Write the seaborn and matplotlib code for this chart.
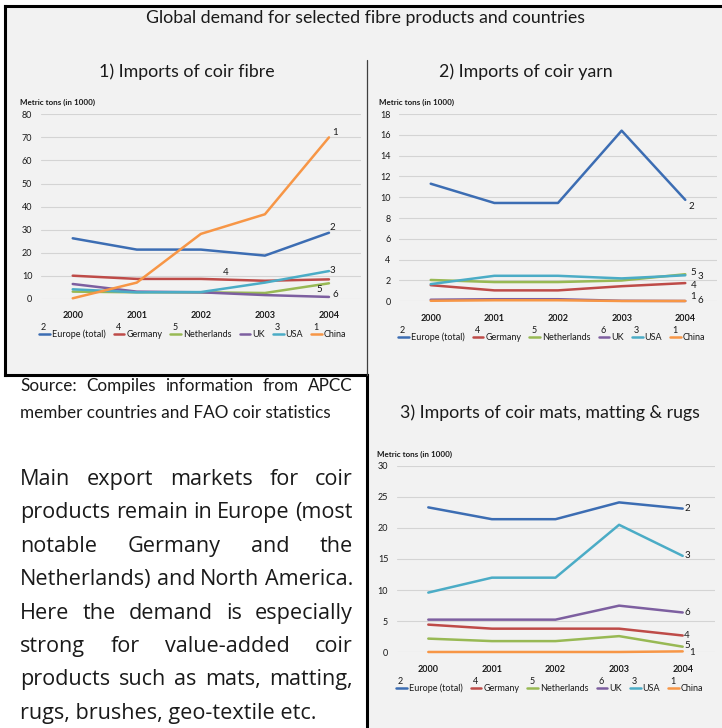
import numpy as np
import pandas as pd
import seaborn as sns
import matplotlib.pyplot as plt
from matplotlib.transforms import Affine2D, IdentityTransform
from matplotlib.patches import Polygon
from matplotlib.lines import Line2D

# Data (metric tons in 1000)
years = [2000, 2001, 2002, 2003, 2004]
countries = ["Europe (total)", "Germany", "Netherlands", "UK", "USA", "China"]
series_ids = ["2", "4", "5", "6", "3", "1"]
colors = ["#3c6db3", "#be4b48", "#98b954", "#7d5fa0", "#4bacc6", "#f79646"]

# 1) coir fibre
fibre_europe = [26.3, 21.4, 21.4, 18.8, 28.7]
fibre_germany = [10.1, 8.7, 8.7, 7.9, 8.5]
fibre_netherlands = [3.2, 2.9, 2.9, 2.6, 6.8]
fibre_uk = [6.5, 3.2, 2.9, 1.7, 0.9]
fibre_usa = [4.2, 2.9, 3.0, 7.1, 12.1]
fibre_china = [0.3, 7.1, 28.2, 36.7, 70.0]

# 2) coir yarn
yarn_europe = [11.3, 9.45, 9.45, 16.4, 9.75]
yarn_germany = [1.55, 1.05, 1.05, 1.45, 1.75]
yarn_netherlands = [2.05, 1.85, 1.85, 2.0, 2.6]
yarn_uk = [0.15, 0.2, 0.2, 0.05, 0.03]
yarn_usa = [1.65, 2.45, 2.45, 2.2, 2.5]
yarn_china = [0.05, 0.1, 0.1, 0.03, 0.03]

# 3) coir mats, matting & rugs
mats_europe = [23.3, 21.4, 21.4, 24.1, 23.1]
mats_germany = [4.45, 3.8, 3.8, 3.8, 2.7]
mats_netherlands = [2.2, 1.8, 1.8, 2.6, 0.9]
mats_uk = [5.25, 5.25, 5.25, 7.5, 6.4]
mats_usa = [9.6, 12.0, 12.0, 20.5, 15.5]
mats_china = [0.05, 0.05, 0.05, 0.05, 0.15]

body_lines = [
    "Main export markets for coir",
    "products remain in Europe (most",
    "notable Germany and the",
    "Netherlands) and North America.",
    "Here the demand is especially",
    "strong for value-added coir",
    "products such as mats, matting,",
    "rugs, brushes, geo-textile etc.",
]
source_lines = [
    "Source: Compiles information from APCC",
    "member countries and FAO coir statistics",
]

W, H = 722, 728
sns.set_theme(style="white")
plt.rcParams['font.family'] = ['Lato', 'DejaVu Sans']

fig = plt.figure(figsize=(W / 100, H / 100), dpi=100)
fig.patch.set_facecolor('white')
# pixel coordinates, origin top-left
pix = Affine2D().scale(1 / W, -1 / H).translate(0, 1) + fig.transFigure

# background panels and borders
fig.add_artist(Polygon([(5, 6), (722, 6), (722, 728), (367, 728), (367, 375), (5, 375)],
                       closed=True, transform=pix, facecolor='#f2f2f2', edgecolor='none', zorder=0))
for xs, ys in [([5, 722], [6, 6]), ([5, 5], [6, 375]), ([5, 367], [375, 375]), ([367, 367], [375, 728])]:
    fig.add_artist(Line2D(xs, ys, transform=pix, color='black', lw=2.2, solid_capstyle='projecting'))
fig.add_artist(Line2D([367, 367], [60, 375], transform=pix, color='#404040', lw=0.9))


def make_axes(l, t, r, b):
    return fig.add_axes([l / W, 1 - b / H, (r - l) / W, (b - t) / H])


def draw_chart(ax, values, ymax, ystep, legend_xy, labels):
    df = pd.DataFrame({
        'year': years * len(countries),
        'country': np.repeat(countries, len(years)),
        'value': np.concatenate(values),
    })
    sns.lineplot(data=df, x='year', y='value', hue='country', hue_order=countries,
                 palette=colors, linewidth=1.8, legend=False, ax=ax)
    for line in ax.lines:
        line.set_clip_on(False)
    ax.set_xlim(1999.5, 2004.5)
    ax.set_ylim(0, ymax)
    ax.set_xticks(years)
    ax.set_xticks(np.arange(1999.5, 2005, 1), minor=True)
    ax.set_yticks(np.arange(0, ymax + 0.1, ystep))
    ax.set_xlabel('')
    ax.set_ylabel('')
    ax.set_facecolor('none')
    for s in ax.spines.values():
        s.set_visible(False)
    ax.grid(axis='y', color='#d4d4d4', lw=0.8)
    ax.set_axisbelow(True)
    ax.tick_params(axis='x', which='major', length=0, pad=9, labelsize=6.5, labelcolor='#1a1a1a')
    ax.tick_params(axis='x', which='minor', length=3, color='#bfbfbf', width=0.8)
    ax.tick_params(axis='y', length=0, pad=6, labelsize=6.5, labelcolor='#1a1a1a')
    for lab in ax.get_xticklabels():
        lab.set_fontweight('bold')

    # numbers at the line ends
    for idx, xi, dx, dy in labels:
        ax.annotate(series_ids[idx], xy=(years[xi], values[idx][xi]), xytext=(dx * 0.72, -dy * 0.72),
                    textcoords='offset points', ha='left', va='center', fontsize=7, color='#1a1a1a')

    handles = [Line2D([], [], color=c, lw=1.8) for c in colors]
    leg = ax.legend(handles, countries, loc='center left', bbox_to_anchor=legend_xy, bbox_transform=pix,
                    ncol=6, frameon=False, fontsize=6.5, handlelength=1.2, handletextpad=0.2,
                    columnspacing=0.9, borderpad=0, borderaxespad=0)
    for t in leg.get_texts():
        t.set_color('#1a1a1a')
    return leg


ax1 = make_axes(40.7, 114.3, 361, 299)
leg1 = draw_chart(ax1, [fibre_europe, fibre_germany, fibre_netherlands, fibre_uk, fibre_usa, fibre_china],
                  80, 10, (39, 334),
                  [(5, 4, 3.5, -4.7), (0, 4, 0.5, -5.7), (4, 4, 0.5, -1), (1, 2, 22, -6),
                   (2, 4, -12.5, 5.7), (3, 4, 3.5, -2)])

ax2 = make_axes(398.9, 114, 717.1, 301.3)
leg2 = draw_chart(ax2, [yarn_europe, yarn_germany, yarn_netherlands, yarn_uk, yarn_usa, yarn_china],
                  18, 2, (398, 337),
                  [(0, 4, 3, 7), (2, 4, 5, -1.6), (4, 4, 12, 1), (1, 4, 6, 2),
                   (5, 4, 5, -4), (3, 4, 12, 0)])

ax3 = make_axes(396.5, 465.7, 714.5, 652.3)
leg3 = draw_chart(ax3, [mats_europe, mats_germany, mats_netherlands, mats_uk, mats_usa, mats_china],
                  30, 5, (396, 688),
                  [(0, 4, 1.5, 0), (4, 4, 1.5, 0), (3, 4, 2, 0), (1, 4, 1.5, 0),
                   (2, 4, 1.5, -1), (5, 4, 6, 1)])

# titles
title_size = 12.8
fig.text(366, 18, "Global demand for selected fibre products and countries", transform=pix,
         ha='center', va='center', fontsize=title_size, color='#1a1a1a')
fig.text(187, 72, "1) Imports of coir fibre", transform=pix, ha='center', va='center',
         fontsize=title_size, color='#1a1a1a')
fig.text(526, 72, "2) Imports of coir yarn", transform=pix, ha='center', va='center',
         fontsize=title_size, color='#1a1a1a')
fig.text(550, 413, "3) Imports of coir mats, matting & rugs", transform=pix, ha='center', va='center',
         fontsize=title_size, color='#1a1a1a')
for x, y in [(20, 102), (379, 102), (377, 454)]:
    fig.text(x, y, "Metric tons (in 1000)", transform=pix, ha='left', va='center', fontsize=5.8,
             fontweight='bold', color='#1a1a1a')

fig.canvas.draw()
renderer = fig.canvas.get_renderer()


def justify(lines, x0, x1, y0, dy, size, family):
    for i, line in enumerate(lines):
        y = y0 + i * dy
        if i == len(lines) - 1:
            fig.text(x0, y, line, transform=pix, fontsize=size, family=family, va='baseline', color='#1a1a1a')
            continue
        words = line.split()
        texts = [fig.text(0, y, w, transform=pix, fontsize=size, family=family, va='baseline',
                          color='#1a1a1a') for w in words]
        widths = [t.get_window_extent(renderer).width for t in texts]
        gap = (x1 - x0 - sum(widths)) / (len(words) - 1)
        x = x0
        for t, w in zip(texts, widths):
            t.set_position((x, y))
            x += w + gap


justify(source_lines, 20, 353, 391, 27, 12.3, ['Lato', 'DejaVu Sans'])
justify(body_lines, 20, 353, 485, 33.4, 15.6, ['Open Sans', 'DejaVu Sans'])

# small series numbers above the legend keys (chart 1 shows none above UK)
for leg, skip in [(leg1, {3}), (leg2, set()), (leg3, set())]:
    for i, h in enumerate(leg.legend_handles):
        if i in skip:
            continue
        bb = h.get_window_extent(renderer)
        fig.text(bb.x0 + 2, bb.y1 + 2, series_ids[i], transform=IdentityTransform(),
                 ha='left', va='bottom', fontsize=6.5, color='#1a1a1a')

fig.savefig('out.png', dpi=100)
